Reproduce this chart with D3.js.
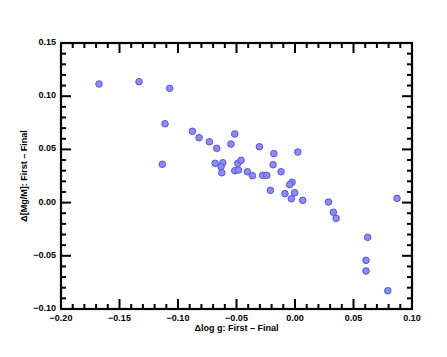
<!DOCTYPE html>
<html>
<head>
<meta charset="utf-8">
<script src="https://cdn.jsdelivr.net/npm/d3@7"></script>
<style>
  body { margin: 0; background: #fff; }
  svg { display: block; }
  text { font-family: "Liberation Sans", Arial, sans-serif; }
</style>
</head>
<body>
<svg id="chart" width="447" height="357"></svg>
<script>
'use strict';

// Δlog g (First - Final)
const dLogg = [
  -0.1675, -0.1333, -0.1071, -0.1111, -0.0877, -0.0820, -0.0732, -0.1134,
  -0.0669, -0.0515, -0.0547, -0.0683, -0.0617, -0.0632, -0.0626, -0.0489,
  -0.0461, -0.0515, -0.0484, -0.0407, -0.0364, -0.0304, -0.0276, -0.0241,
  -0.0181, -0.0187, -0.0119, 0.0024, -0.0210, -0.0025, -0.0045, -0.0086,
  -0.0003, -0.0031, 0.0066, 0.0286, 0.0328, 0.0351, 0.0872, 0.0621,
  0.0607, 0.0607, 0.0793
];
// Δ[Mg/M] (First - Final)
const dMg = [
  0.1115, 0.1136, 0.1074, 0.0741, 0.0670, 0.0610, 0.0572, 0.0360,
  0.0510, 0.0645, 0.0550, 0.0369, 0.0375, 0.0337, 0.0281, 0.0369,
  0.0397, 0.0300, 0.0306, 0.0290, 0.0253, 0.0525, 0.0256, 0.0256,
  0.0460, 0.0356, 0.0290, 0.0475, 0.0115, 0.0191, 0.0169, 0.0084,
  0.0093, 0.0036, 0.0021, 0.0005, -0.0091, -0.0148, 0.0040, -0.0326,
  -0.0543, -0.0643, -0.0828
];

const xTicks = [-0.20, -0.15, -0.10, -0.05, 0.00, 0.05, 0.10];
const yTicks = [-0.10, -0.05, 0.00, 0.05, 0.10, 0.15];
const xTitle = '\u0394log g: First \u2013 Final';
const yTitle = '\u0394[Mg/M]: First \u2013 Final';

const data = dLogg.map((d, i) => ({x: d, y: dMg[i]}));

const svg = d3.select('#chart');
const mLeft = 61, mRight = 412, mTop = 43, mBottom = 309;

const x = d3.scaleLinear().domain([-0.2, 0.1]).range([mLeft, mRight]);
const y = d3.scaleLinear().domain([-0.1, 0.15]).range([mBottom, mTop]);

const fmt = (v) => d3.format('.2f')(v).replace('-', '\u2013');
const minorX = d3.range(-0.2, 0.1001, 0.01);
const minorY = d3.range(-0.1, 0.1501, 0.01);

// minor ticks (inward) on all four sides
const ticks = svg.append('g').attr('stroke', '#000').attr('stroke-width', 2);
minorX.forEach((v) => {
  const big = xTicks.some((t) => Math.abs(t - v) < 1e-6);
  const len = big ? 10 : 5;
  ticks.append('line').attr('x1', x(v)).attr('x2', x(v)).attr('y1', mBottom).attr('y2', mBottom - len);
  ticks.append('line').attr('x1', x(v)).attr('x2', x(v)).attr('y1', mTop).attr('y2', mTop + len);
});
minorY.forEach((v) => {
  const big = yTicks.some((t) => Math.abs(t - v) < 1e-6);
  const len = big ? 10 : 5;
  ticks.append('line').attr('y1', y(v)).attr('y2', y(v)).attr('x1', mLeft).attr('x2', mLeft + len);
  ticks.append('line').attr('y1', y(v)).attr('y2', y(v)).attr('x1', mRight).attr('x2', mRight - len);
});

// frame
svg.append('rect')
  .attr('x', mLeft).attr('y', mTop)
  .attr('width', mRight - mLeft).attr('height', mBottom - mTop)
  .attr('fill', 'none').attr('stroke', '#000').attr('stroke-width', 2.2);

// tick labels
svg.append('g').selectAll('text').data(xTicks).join('text')
  .attr('x', (d) => x(d)).attr('y', mBottom + 12)
  .attr('text-anchor', 'middle')
  .style('font-size', '9px').style('font-weight', 'bold')
  .text(fmt);

svg.append('g').selectAll('text').data(yTicks).join('text')
  .attr('x', mLeft - 5).attr('y', (d) => y(d) + 2)
  .attr('text-anchor', 'end')
  .style('font-size', '9px').style('font-weight', 'bold')
  .text(fmt);

// axis titles
svg.append('text')
  .attr('x', (mLeft + mRight) / 2).attr('y', mBottom + 22)
  .attr('text-anchor', 'middle')
  .style('font-size', '9px').style('font-weight', 'bold')
  .text(xTitle);

svg.append('text')
  .attr('transform', `translate(27,${(mTop + mBottom) / 2}) rotate(-90)`)
  .attr('text-anchor', 'middle')
  .style('font-size', '9px').style('font-weight', 'bold')
  .text(yTitle);

// points
svg.append('g').selectAll('circle').data(data).join('circle')
  .attr('cx', (d) => x(d.x)).attr('cy', (d) => y(d.y))
  .attr('r', 3.3)
  .attr('fill', '#8c8cf6')
  .attr('stroke', '#4a4ae0')
  .attr('stroke-width', 0.9);
</script>
</body>
</html>
